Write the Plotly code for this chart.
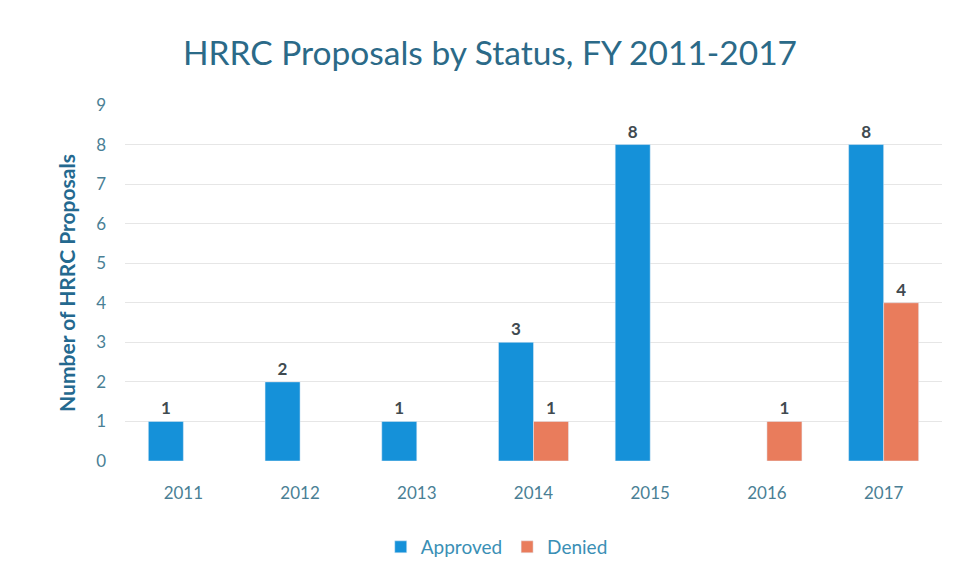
import plotly.graph_objects as go

years = ["2011", "2012", "2013", "2014", "2015", "2016", "2017"]
approved = [1, 2, 1, 3, 8, None, 8]
denied = [None, None, None, 1, None, 1, 4]

blue = "#1591d9"
orange = "#e97c5c"
font_family = "Lato, Open Sans, sans-serif"

fig = go.Figure()
fig.add_trace(go.Bar(x=years, y=approved, name="Approved", marker_color=blue,
                     text=[str(v) if v is not None else "" for v in approved],
                     textposition="outside", cliponaxis=False,
                     textfont=dict(color="#404a50", size=17, weight="bold")))
fig.add_trace(go.Bar(x=years, y=denied, name="Denied", marker_color=orange,
                     text=[str(v) if v is not None else "" for v in denied],
                     textposition="outside", cliponaxis=False,
                     textfont=dict(color="#404a50", size=17, weight="bold")))

fig.update_layout(
    width=957, height=561,
    paper_bgcolor="white", plot_bgcolor="white",
    font=dict(family=font_family, color="#4a7f95"),
    title=dict(text="HRRC Proposals by Status, FY 2011-2017", x=0.512, xanchor="center",
               y=0.905, yanchor="middle",
               font=dict(size=33.5, color="#2b6a88", family=font_family)),
    margin=dict(l=125, r=15, t=105, b=100, autoexpand=False),
    barmode="group", bargap=0.4, bargroupgap=0,
    showlegend=True,
    legend=dict(orientation="h", x=0.455, xanchor="center",
                yref="container", y=0.025, yanchor="middle",
                font=dict(size=19, color="#3a8fb5"), traceorder="normal",
                itemwidth=30, tracegroupgap=0),
    xaxis=dict(tickfont=dict(size=17, color="#4a7f95"), showgrid=False,
               showline=False, ticks="", ticklabelstandoff=20, automargin=False),
    yaxis=dict(range=[0, 9], dtick=1, tickfont=dict(size=17, color="#4a7f95"),
               gridcolor="#e6e6e6", zeroline=False, showline=False,
               ticklabelstandoff=18, automargin=False,
               title=dict(text="Number of HRRC Proposals",
                          font=dict(size=21, color="#24698f", weight="bold"), standoff=14)),
)

fig.write_html("out.html")
